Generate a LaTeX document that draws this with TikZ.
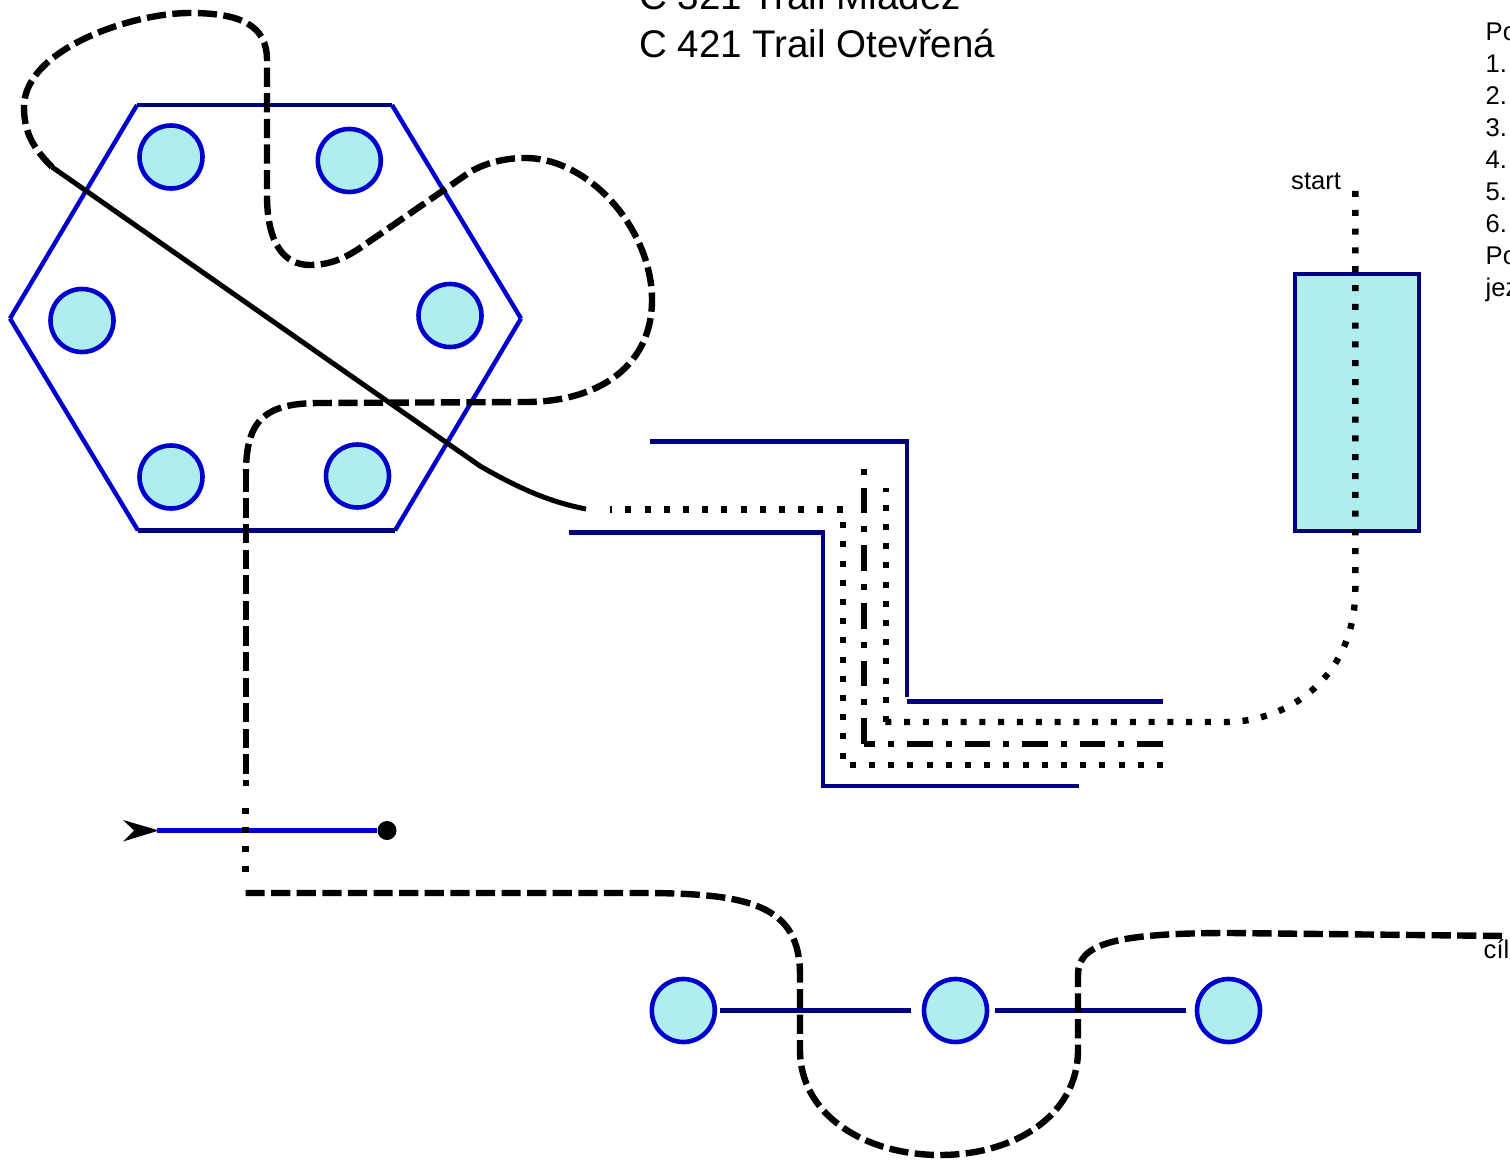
\documentclass[tikz,border=0pt]{standalone}
\usepackage{fontspec}
\setmainfont{Liberation Sans}
\definecolor{edgeblue}{HTML}{0000CC}
\definecolor{navyline}{HTML}{000080}
\definecolor{paleteal}{HTML}{AFEEEE}
\tikzset{
  hexedge/.style={draw=edgeblue,line width=4.4pt},
  channel/.style={draw=navyline,line width=4.4pt},
  stop/.style={circle,draw=edgeblue,fill=paleteal,line width=4.6pt,minimum size=63pt,inner sep=0pt},
  solidtrail/.style={draw=black,line width=5pt},
  dashtrail/.style={draw=black,line width=6.4pt,dash pattern=on 19.2pt off 6.4pt},
  dottrail/.style={draw=black,line width=6.4pt,dash pattern=on 6pt off 13.2pt},
  fineDots/.style={draw=black,line width=6.4pt,dash pattern=on 6pt off 12.8pt},
  dashdotA/.style={draw=black,line width=6.4pt,dash pattern=on 6pt off 13pt on 25.6pt off 13pt},
  dashdotB/.style={draw=black,line width=6.4pt,dash pattern=on 25.6pt off 13pt on 6pt off 13pt},
  bigtext/.style={anchor=base west,inner sep=0pt,font=\fontsize{38.5}{40}\selectfont},
  smalltext/.style={anchor=base west,inner sep=0pt,font=\fontsize{25.6}{28}\selectfont},
}
\begin{document}
\begin{tikzpicture}[x=1pt,y=-1pt]
\useasboundingbox (0,0) rectangle (1510,1161);
\clip (0,0) rectangle (1510,1161);
% hexagon
\coordinate (h1) at (137,105); \coordinate (h2) at (392,105); \coordinate (h3) at (521,318.5);
\coordinate (h4) at (395,530.5); \coordinate (h5) at (138,530.5); \coordinate (h6) at (10,318.5);
\draw[hexedge] (h2)--(h3);
\draw[hexedge] (h3)--(h4);
\draw[hexedge] (h5)--(h6);
\draw[hexedge] (h6)--(h1);
\draw[channel] (h1)--(h2);
\draw[channel] (h4)--(h5);
\node[stop] (s1) at (171,157) {};
\node[stop] (s2) at (349.3,160.5) {};
\node[stop] (s3) at (450,315.5) {};
\node[stop] (s4) at (357.5,476) {};
\node[stop] (s5) at (171,477) {};
\node[stop] (s6) at (82,320.5) {};
% channel
\coordinate (c1) at (650,441.5); \coordinate (c2) at (907,441.5); \coordinate (c3) at (907,697);
\coordinate (c4) at (907,701.5); \coordinate (c5) at (1163,701.5);
\coordinate (c6) at (569,532.5); \coordinate (c7) at (823,532.5); \coordinate (c8) at (823,786); \coordinate (c9) at (1079,786);
\draw[channel] (c1)--(c2)--(c3);
\draw[channel] (c4)--(c5);
\draw[channel] (c6)--(c7)--(c8)--(c9);
% rectangle
\node[draw=navyline,fill=paleteal,line width=4.4pt,minimum width=124.5pt,minimum height=256.5pt,inner sep=0pt] (depot) at (1357,402.5) {};
% legend line
\coordinate (arrowTail) at (157,830.5);
\fill[black] (123,820) -- (159,830.5) -- (123,841.5) -- (134,830.5) -- cycle;
\node[circle,fill=black,minimum size=19pt,inner sep=0pt] (dot) at (387,830.5) {};
\draw[hexedge] (arrowTail) -- (dot);
% bottom stops
\node[stop] (b1) at (683.3,1010.5) {};
\node[stop] (b2) at (955.5,1010.5) {};
\node[stop] (b3) at (1228.5,1010.5) {};
\draw[channel,shorten <=3pt,shorten >=10.4pt] (b1)--(b2);
\draw[channel,shorten <=6pt,shorten >=8.8pt] (b2)--(b3);
% solid diagonal
\coordinate (a0) at (52,167); \coordinate (a1) at (480,466); \coordinate (a2) at (586,509);
\draw[solidtrail] (a0) -- (a1) .. controls (520,489) and (550,502) .. (a2);
% dashed upper route
\coordinate (d0) at (52,167);
\coordinate (d1) at (246,472.8);
\coordinate (d2) at (246,786);
\draw[dashtrail] (d0) .. controls (33,148) and (24,132) .. (24,107)
  .. controls (24,50) and (130,13) .. (190,13)
  .. controls (240,13) and (267,25) .. (267,60)
  -- (267,195)
  .. controls (267,245) and (285,265) .. (310,265)
  .. controls (330,265) and (345,258) .. (360,248)
  -- (470,172)
  .. controls (485,163) and (505,158) .. (525,158)
  .. controls (590,158) and (652,230) .. (652,300)
  .. controls (652,365) and (600,402) .. (525,402)
  -- (320,403)
  .. controls (265,403) and (246,420) .. (d1);
\draw[dashtrail] (d1) -- (d2);
\coordinate (e0) at (245.5,808); \coordinate (e1) at (245.5,872); \coordinate (e2) at (245.5,893);
\draw[dottrail] (e0) -- (e1);
\draw[dashtrail] (e2) -- (640,893)
  .. controls (750,893) and (800,905) .. (800,975)
  -- (800,1050)
  .. controls (800,1115) and (865,1155) .. (940,1155)
  .. controls (1015,1155) and (1078,1115) .. (1078,1050)
  -- (1078,975)
  .. controls (1078,945) and (1110,933) .. (1230,933)
  -- (1505,936);
% dotted routes in channel
\coordinate (p0) at (609.5,509.5); \coordinate (p1) at (843,509.5); \coordinate (p2) at (843,765); \coordinate (p3) at (1163,765);
\draw[dottrail,dash phase=3.4pt] (p0) -- (p1) -- (p2) -- (p3);
\coordinate (q0) at (864,468.7); \coordinate (q1) at (864,744); \coordinate (q2) at (1163,744);
\draw[dashdotA] (q0) -- (q1);
\draw[dashdotB] (q2) -- (q1);
\coordinate (r0) at (886,488); \coordinate (r1) at (886,722); \coordinate (r2) at (1226.3,722); \coordinate (r3) at (1355.3,191);
\draw[fineDots] (r3) -- (1355.3,589) .. controls (1355.3,680) and (1285,722) .. (r2) -- (885,722);
\draw[dottrail] (r1) -- (r0);
% texts
\node[bigtext] (t1) at (639,10) {C 321 Trail Mládež};
\node[bigtext] (t2) at (639,58) {C 421 Trail Otevřená};
\node[smalltext] (l0) at (1485.5,40.5) {Po};
\node[smalltext] (l1) at (1485.5,72.5) {1.};
\node[smalltext] (l2) at (1485.5,104.5) {2.};
\node[smalltext] (l3) at (1485.5,136.5) {3.};
\node[smalltext] (l4) at (1485.5,168.5) {4.};
\node[smalltext] (l5) at (1485.5,200.5) {5.};
\node[smalltext] (l6) at (1485.5,232.5) {6.};
\node[smalltext] (l7) at (1485.5,264) {Po};
\node[smalltext] (l8) at (1485.5,296.5) {jez};
\node[smalltext] (st) at (1291,189.5) {start};
\node[smalltext] (ci) at (1483.5,958) {cíl};
\end{tikzpicture}
\end{document}
